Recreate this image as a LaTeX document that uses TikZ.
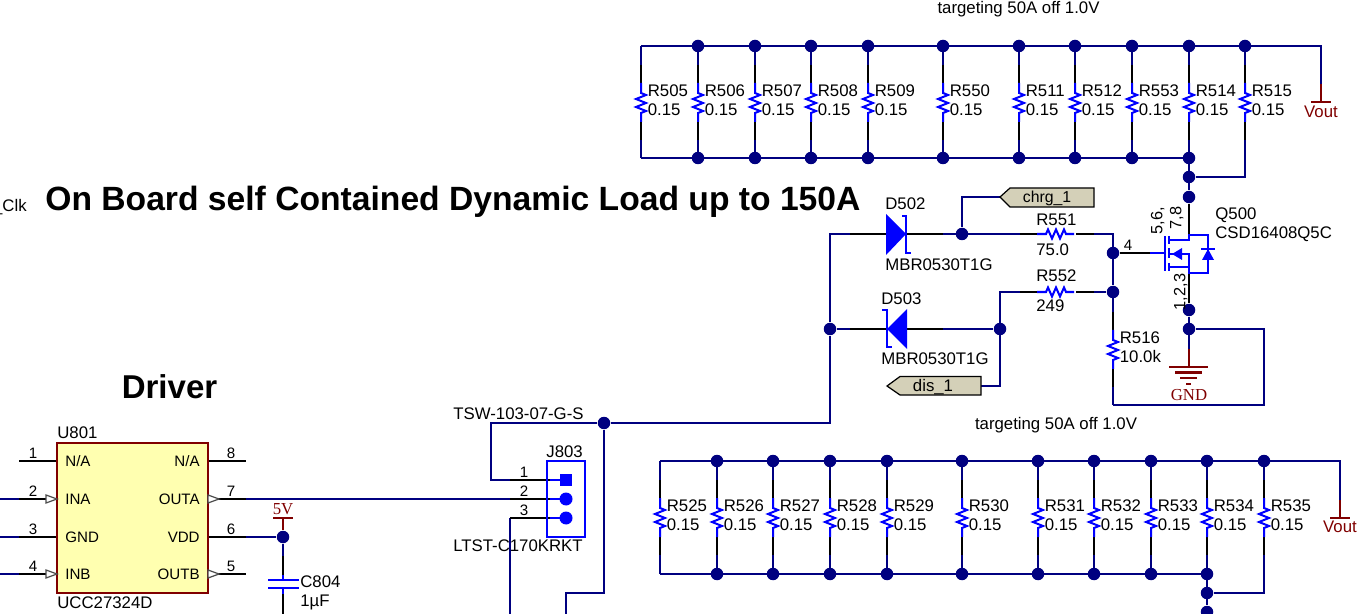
\documentclass[tikz,border=0pt]{standalone}
\usepackage{fontspec}
\setmainfont{Liberation Sans}
\newfontfamily\pwrfont{Liberation Serif}
\definecolor{wirenavy}{RGB}{0,0,128}
\definecolor{partblue}{RGB}{0,0,255}
\definecolor{pwrred}{RGB}{128,0,0}
\definecolor{chipyellow}{RGB}{255,255,176}
\definecolor{portgray}{RGB}{212,208,184}
\newcommand*{\lblsize}{\fontsize{9.55}{11}\selectfont}
\newcommand*{\pinsize}{\fontsize{8.6}{10}\selectfont}
\newcommand*{\vres}[5]{% name, x, top y, value, height
	\coordinate (t#1) at (#2,#3);
	\coordinate (b#1) at (#2,#3+#5);
	\draw[wire] (t#1) -- (#2,#3+19);
	\draw[wire] (#2,#3+94) -- (b#1);
	\draw[pin] (#2,#3+19) -- (#2,#3+37);
	\draw[pin] (#2,#3+76) -- (#2,#3+94);
	\draw[part] (#2,#3+37) -- ++(0,10) -- ++(5,2) -- ++(-10,4) -- ++(10,4) -- ++(-10,4) -- ++(10,4) -- ++(-5,2) -- ++(0,9);
	\node[lbl] (n#1) at (#2+6.5,#3+45) {R#1};
	\node[lbl] (v#1) at (#2+6.5,#3+64) {#4};
}
\newcommand*{\hres}[4]{% name, y, value, label y shift
	\draw[pin] (1020,#2) -- (1037,#2);
	\draw[pin] (1076,#2) -- (1094,#2);
	\draw[part] (1037,#2) -- ++(9,0) -- ++(2,-4.5) -- ++(4,9) -- ++(4,-9) -- ++(4,9) -- ++(4,-9) -- ++(2,4.5) -- ++(8,0);
	\node[lbl] (n#1) at (1036,#2-14-#4) {R#1};
	\node[lbl] (v#1) at (1036,#2+16-#4) {#3};
}
\begin{document}
\begin{tikzpicture}[x=0.02cm,y=-0.02cm,
	wire/.style={draw=wirenavy,line width=1.15pt},
	pin/.style={draw=black,line width=1.15pt},
	part/.style={draw=partblue,line width=1.15pt},
	pwr/.style={draw=pwrred,line width=1.15pt},
	dot/.style={circle,fill=wirenavy,inner sep=0pt,minimum size=0.25cm},
	lbl/.style={inner sep=0pt,anchor=west,font=\lblsize,text height=6.8pt,text depth=0pt},
	num/.style={inner sep=0pt,font=\lblsize,text height=6.8pt,text depth=0pt},
	pinnum/.style={inner sep=0pt,font=\pinsize,text height=6.2pt,text depth=0pt},
	pinlbl/.style={inner sep=0pt,anchor=west,font=\pinsize,text height=6.2pt,text depth=0pt},
	title/.style={inner sep=0pt,font=\fontsize{19.15}{22}\selectfont\bfseries,text height=13.7pt,text depth=0pt},
	pwrlbl/.style={inner sep=0pt,text=pwrred,font=\pwrfont\lblsize,text height=6.4pt,text depth=0pt},
	port/.style={draw=black,fill=portgray,line width=0.7pt},
	tri/.style={draw=black!70,fill=white,line width=0.7pt},
	chip/.style={rectangle,draw=pwrred,fill=chipyellow,line width=0.6pt,minimum width=3.02cm,minimum height=3cm}]
	\useasboundingbox (0,0) rectangle (1371,614);
	\clip (0,0) rectangle (1371,614);

	% upper bank
	\foreach \x/\n in {641/505,698/506,755/507,811/508,868/509,943/550,1019/511,1075/512,1132/553,1189/514,1245/515}
		\vres{\n}{\x}{46}{0.15}{112};
	\coordinate (vo) at (1321,46);
	\coordinate (vob) at (1321,84);
	\coordinate (vop) at (1321,102);
	\draw[wire] (t505) -- (vo) -- (vob);
	\draw[wire] (b505) -- (b514);
	\draw[pwr] (vob) -- (vop);
	\draw[pwr] (1311,102) -- (1331,102);
	\node[pwrlbl,font=\lblsize] (vout) at (1321,112) {Vout};
	\foreach \n in {506,507,508,509,550,511,512,553,514,515}
		\node[dot] (dt\n) at (t\n) {};
	\foreach \n in {506,507,508,509,550,511,512,553,514}
		\node[dot] (db\n) at (b\n) {};
	\node[dot] (dtie) at (1189,177) {};
	\node[dot] (dq) at (1189,197) {};
	\coordinate (tiec) at (1245,177);
	\draw[wire] (b514) -- (dq);
	\draw[wire] (b515) -- (tiec) -- (dtie);
	\node[num] (tgt) at (1018.5,8) {targeting 50A off 1.0V};

	% lower bank
	\foreach \x/\n in {660/525,717/526,773/527,830/528,887/529,962/530,1038/531,1094/532,1151/533,1207/534,1264/535}
		\vres{\n}{\x}{461}{0.15}{113};
	\coordinate (wo) at (1340,461);
	\coordinate (wob) at (1340,500);
	\coordinate (wop) at (1340,518);
	\draw[wire] (t525) -- (wo) -- (wob);
	\draw[wire] (b525) -- (b534);
	\draw[pwr] (wob) -- (wop);
	\draw[pwr] (1330,518) -- (1350,518);
	\node[pwrlbl,font=\lblsize] (wout) at (1340,527) {Vout};
	\foreach \n in {526,527,528,529,530,531,532,533,534,535}
		\node[dot] (dt\n) at (t\n) {};
	\foreach \n in {526,527,528,529,530,531,532,533,534}
		\node[dot] (db\n) at (b\n) {};
	\node[dot] (dwie) at (1207,593) {};
	\node[dot] (dw) at (1207,612) {};
	\coordinate (wiec) at (1264,593);
	\draw[wire] (b534) -- (dw);
	\draw[wire] (b535) -- (wiec) -- (dwie);
	\node[num] (tgu) at (1056,424) {targeting 50A off 1.0V};

	\node[num,anchor=east] (clk) at (27,206) {\_Clk};
	\node[title,anchor=west] (ttl) at (45,198) {On Board self Contained Dynamic Load up to 150A};
	\node[title,font=\fontsize{18.8}{22}\selectfont\bfseries] (drv) at (169.5,386) {Driver};

	% diodes and gate network
	\node[dot] (dj) at (830,329) {};
	\node[dot] (da) at (962,234) {};
	\node[dot] (dc) at (1000,329) {};
	\node[dot] (dg) at (1113,253) {};
	\node[dot] (dr) at (1113,292) {};
	\node[dot] (dm) at (604,423) {};
	\coordinate (jt) at (830,234);
	\coordinate (rt) at (1113,234);
	\coordinate (cr) at (1000,292);
	\coordinate (chp) at (1000,197);
	\coordinate (chc) at (962,197);
	\coordinate (dsp) at (981,386);
	\coordinate (dsc) at (1000,386);
	\draw[wire] (dm) -- (830,423) -- (dj) -- (jt) -- (1020,234);
	\draw[wire] (1094,234) -- (rt) -- (dr);
	\draw[wire] (chp) -- (chc) -- (da);
	\draw[wire] (dj) -- (dc);
	\draw[wire] (dsp) -- (dsc) -- (cr) -- (1020,292);
	\draw[wire] (1094,292) -- (dr);
	\draw[pin] (850,234) -- (943,234);
	\draw[pin] (850,329) -- (943,329);
	\hres{551}{234}{75.0}{0}
	\hres{552}{292}{249}{2}
	\fill[partblue] (886,214) -- (906,234) -- (886,255) -- cycle;
	\draw[part] (902,216) -- (906,216) -- (906,253) -- (911,253);
	\fill[partblue] (907,309) -- (887,329) -- (907,349) -- cycle;
	\draw[part] (882,310) -- (887,310) -- (887,347) -- (892,347);
	\draw[port] (1000,197) -- (1010,188) -- (1094,188) -- (1094,207) -- (1010,207) -- cycle;
	\node[num,font=\fontsize{9}{11}\selectfont] (chrg) at (1047,197) {chrg\_1};
	\draw[port] (981,376.5) -- (900,376.5) -- (887,386) -- (900,395) -- (981,395) -- cycle;
	\node[num] (dis) at (933,386) {dis\_1};
	\node[lbl] (d502) at (885,204) {D502};
	\node[lbl] (d502p) at (885,265) {MBR0530T1G};
	\node[lbl] (d503) at (881,299) {D503};
	\node[lbl] (d503p) at (881,359) {MBR0530T1G};

	% mosfet
	\node[dot] (dq2) at (1189,310) {};
	\node[dot] (dq3) at (1189,329) {};
	\coordinate (qd) at (1189,235);
	\coordinate (qs) at (1189,273);
	\coordinate (qg) at (1150,253);
	\coordinate (gnd) at (1189,367);
	\coordinate (gndb) at (1189,349);
	\coordinate (lpr) at (1264,329);
	\coordinate (lpb) at (1264,405);
	\draw[pin] (dq) -- (qd);
	\draw[pin] (qs) -- (dq2);
	\draw[pin] (dg) -- (qg);
	\draw[part] (qg) -- (1165,253);
	\draw[part] (1165,236) -- (1165,271);
	\draw[part] (1169,236) -- (1169,244);
	\draw[part] (1169,248) -- (1169,258);
	\draw[part] (1169,263) -- (1169,271);
	\draw[part] (1169,240) -- (1189,240) -- (qd) -- (1208,235) -- (1208,273) -- (qs) -- (1189,267) -- (1169,267);
	\draw[part] (1189,267) -- (1189,254) -- (1169,254);
	\fill[partblue] (1172,254) -- (1182,248) -- (1182,260) -- cycle;
	\fill[partblue] (1208,249) -- (1202,260) -- (1214,260) -- cycle;
	\draw[part] (1201,249) -- (1215,249);
	\node[pinnum] (n4) at (1128,245) {4};
	\node[pinnum,rotate=90,font=\fontsize{9.3}{11}\selectfont] (p56) at (1157,221) {5,6,};
	\node[pinnum,rotate=90,font=\fontsize{9.3}{11}\selectfont] (p78) at (1176,218) {7,8};
	\node[pinnum,rotate=90,font=\fontsize{9.3}{11}\selectfont] (p123) at (1180,292) {1,2,3};
	\node[lbl] (q500) at (1215,214) {Q500};
	\node[lbl] (q500p) at (1215,233) {CSD16408Q5C};
	\vres{516}{1113}{293}{10.0k}{112};
	\draw[wire] (dr) -- (t516);
	\draw[wire] (b516) -- (lpb) -- (lpr) -- (dq3);
	\draw[wire] (dq2) -- (gndb);
	\draw[pwr] (gndb) -- (gnd);
	\draw[pwr] (1169,367) -- (1208,367);
	\draw[pwr] (1175,372.5) -- (1202,372.5);
	\draw[pwr] (1180,378) -- (1197,378);
	\draw[pwr] (1186,384) -- (1191,384);
	\node[pwrlbl] (gndt) at (1189,395) {GND};

	% connector
	\coordinate (jp1) at (550,480);
	\coordinate (jp2) at (550,499);
	\coordinate (jp3) at (550,518);
	\coordinate (jc1) at (491,480);
	\coordinate (jc3) at (510,518);
	\coordinate (lo1) at (510,614);
	\coordinate (lo2) at (566,614);
	\coordinate (lo2c) at (566,593);
	\draw[wire] (dm) -- (491,423) -- (jc1) -- (510,480);
	\draw[pin] (510,480) -- (jp1);
	\draw[wire] (246,499) -- (510,499);
	\draw[pin] (510,499) -- (jp2);
	\draw[wire] (jc3) -- (lo1);
	\draw[pin] (jc3) -- (jp3);
	\draw[wire] (dm) -- (604,593) -- (lo2c) -- (lo2);
	\node[draw=partblue,line width=1.15pt,minimum width=0.76cm,minimum height=1.52cm,inner sep=0pt] (j803) at (566,499) {};
	\draw[part] (jp1) -- (566,480);
	\draw[part] (jp2) -- (566,499);
	\draw[part] (jp3) -- (566,518);
	\node[fill=partblue,inner sep=0pt,minimum size=0.24cm] (js) at (566,480) {};
	\node[circle,fill=partblue,inner sep=0pt,minimum size=0.26cm] (jb) at (566,499) {};
	\node[circle,fill=partblue,inner sep=0pt,minimum size=0.26cm] (jd) at (566,518) {};
	\foreach \i/\y in {1/472,2/491,3/510}
		\node[pinnum] (jn\i) at (524,\y) {\i};
	\node[lbl] (jname) at (546,452) {J803};
	\node[lbl] (jtsw) at (453,414) {TSW-103-07-G-S};
	\node[lbl] (jltst) at (453,546) {LTST-C170KRKT};

	% driver
	\foreach \i/\y in {1/461,2/499,3/537,4/574}{
		\coordinate (ul\i) at (57,\y);
		\coordinate (ux\i) at (19,\y);
		\draw[pin] (ux\i) -- (ul\i);
		\node[pinnum] (unn\i) at (33,\y-8) {\i};
	}
	\foreach \i/\y in {2/499,3/537,4/574}{
		\coordinate (ue\i) at (0,\y);
		\draw[wire] (ue\i) -- (ux\i);
	}
	\foreach \i/\y in {8/461,7/499,6/537,5/574}{
		\coordinate (ur\i) at (208,\y);
		\coordinate (uy\i) at (246,\y);
		\draw[pin] (ur\i) -- (uy\i);
		\node[pinnum] (unm\i) at (231,\y-8) {\i};
	}
	\node[chip] (u801) at (132.5,518) {};
	\foreach \i/\y/\n in {1/461/{N/A},2/499/INA,3/537/GND,4/574/INB}
		\node[pinlbl] (unl\i) at (65,\y) {\n};
	\foreach \i/\y/\n in {8/461/{N/A},7/499/OUTA,6/537/VDD,5/574/OUTB}
		\node[pinlbl,anchor=east] (unr\i) at (200,\y) {\n};
	\draw[tri] (46,495) -- (57,499) -- (46,503) -- cycle;
	\draw[tri] (46,570) -- (57,574) -- (46,578) -- cycle;
	\draw[tri] (208,495) -- (219,499) -- (208,503) -- cycle;
	\draw[tri] (208,570) -- (219,574) -- (208,578) -- cycle;
	\node[lbl] (uname) at (57,433) {U801};
	\node[lbl] (upart) at (57,603) {UCC27324D};

	% supply and cap
	\node[dot] (dv) at (283,537) {};
	\coordinate (vtop) at (283,518);
	\coordinate (cu) at (283,575);
	\coordinate (cl) at (283,594);
	\coordinate (clo) at (283,614);
	\draw[wire] (uy6) -- (dv) -- (283,556);
	\draw[pwr] (vtop) -- (283,530);
	\draw[pwr] (273,518) -- (293,518);
	\node[pwrlbl] (v5) at (283,509) {5V};
	\draw[pin] (283,556) -- (cu);
	\draw[part] (cu) -- (283,580);
	\draw[part] (268,580) -- (299,580);
	\draw[part] (268,588) -- (299,588);
	\draw[part] (283,588) -- (cl);
	\draw[pin] (cl) -- (clo);
	\node[lbl] (c804) at (300,582) {C804};
	\node[lbl] (c804v) at (300,601) {1µF};
\end{tikzpicture}
\end{document}
